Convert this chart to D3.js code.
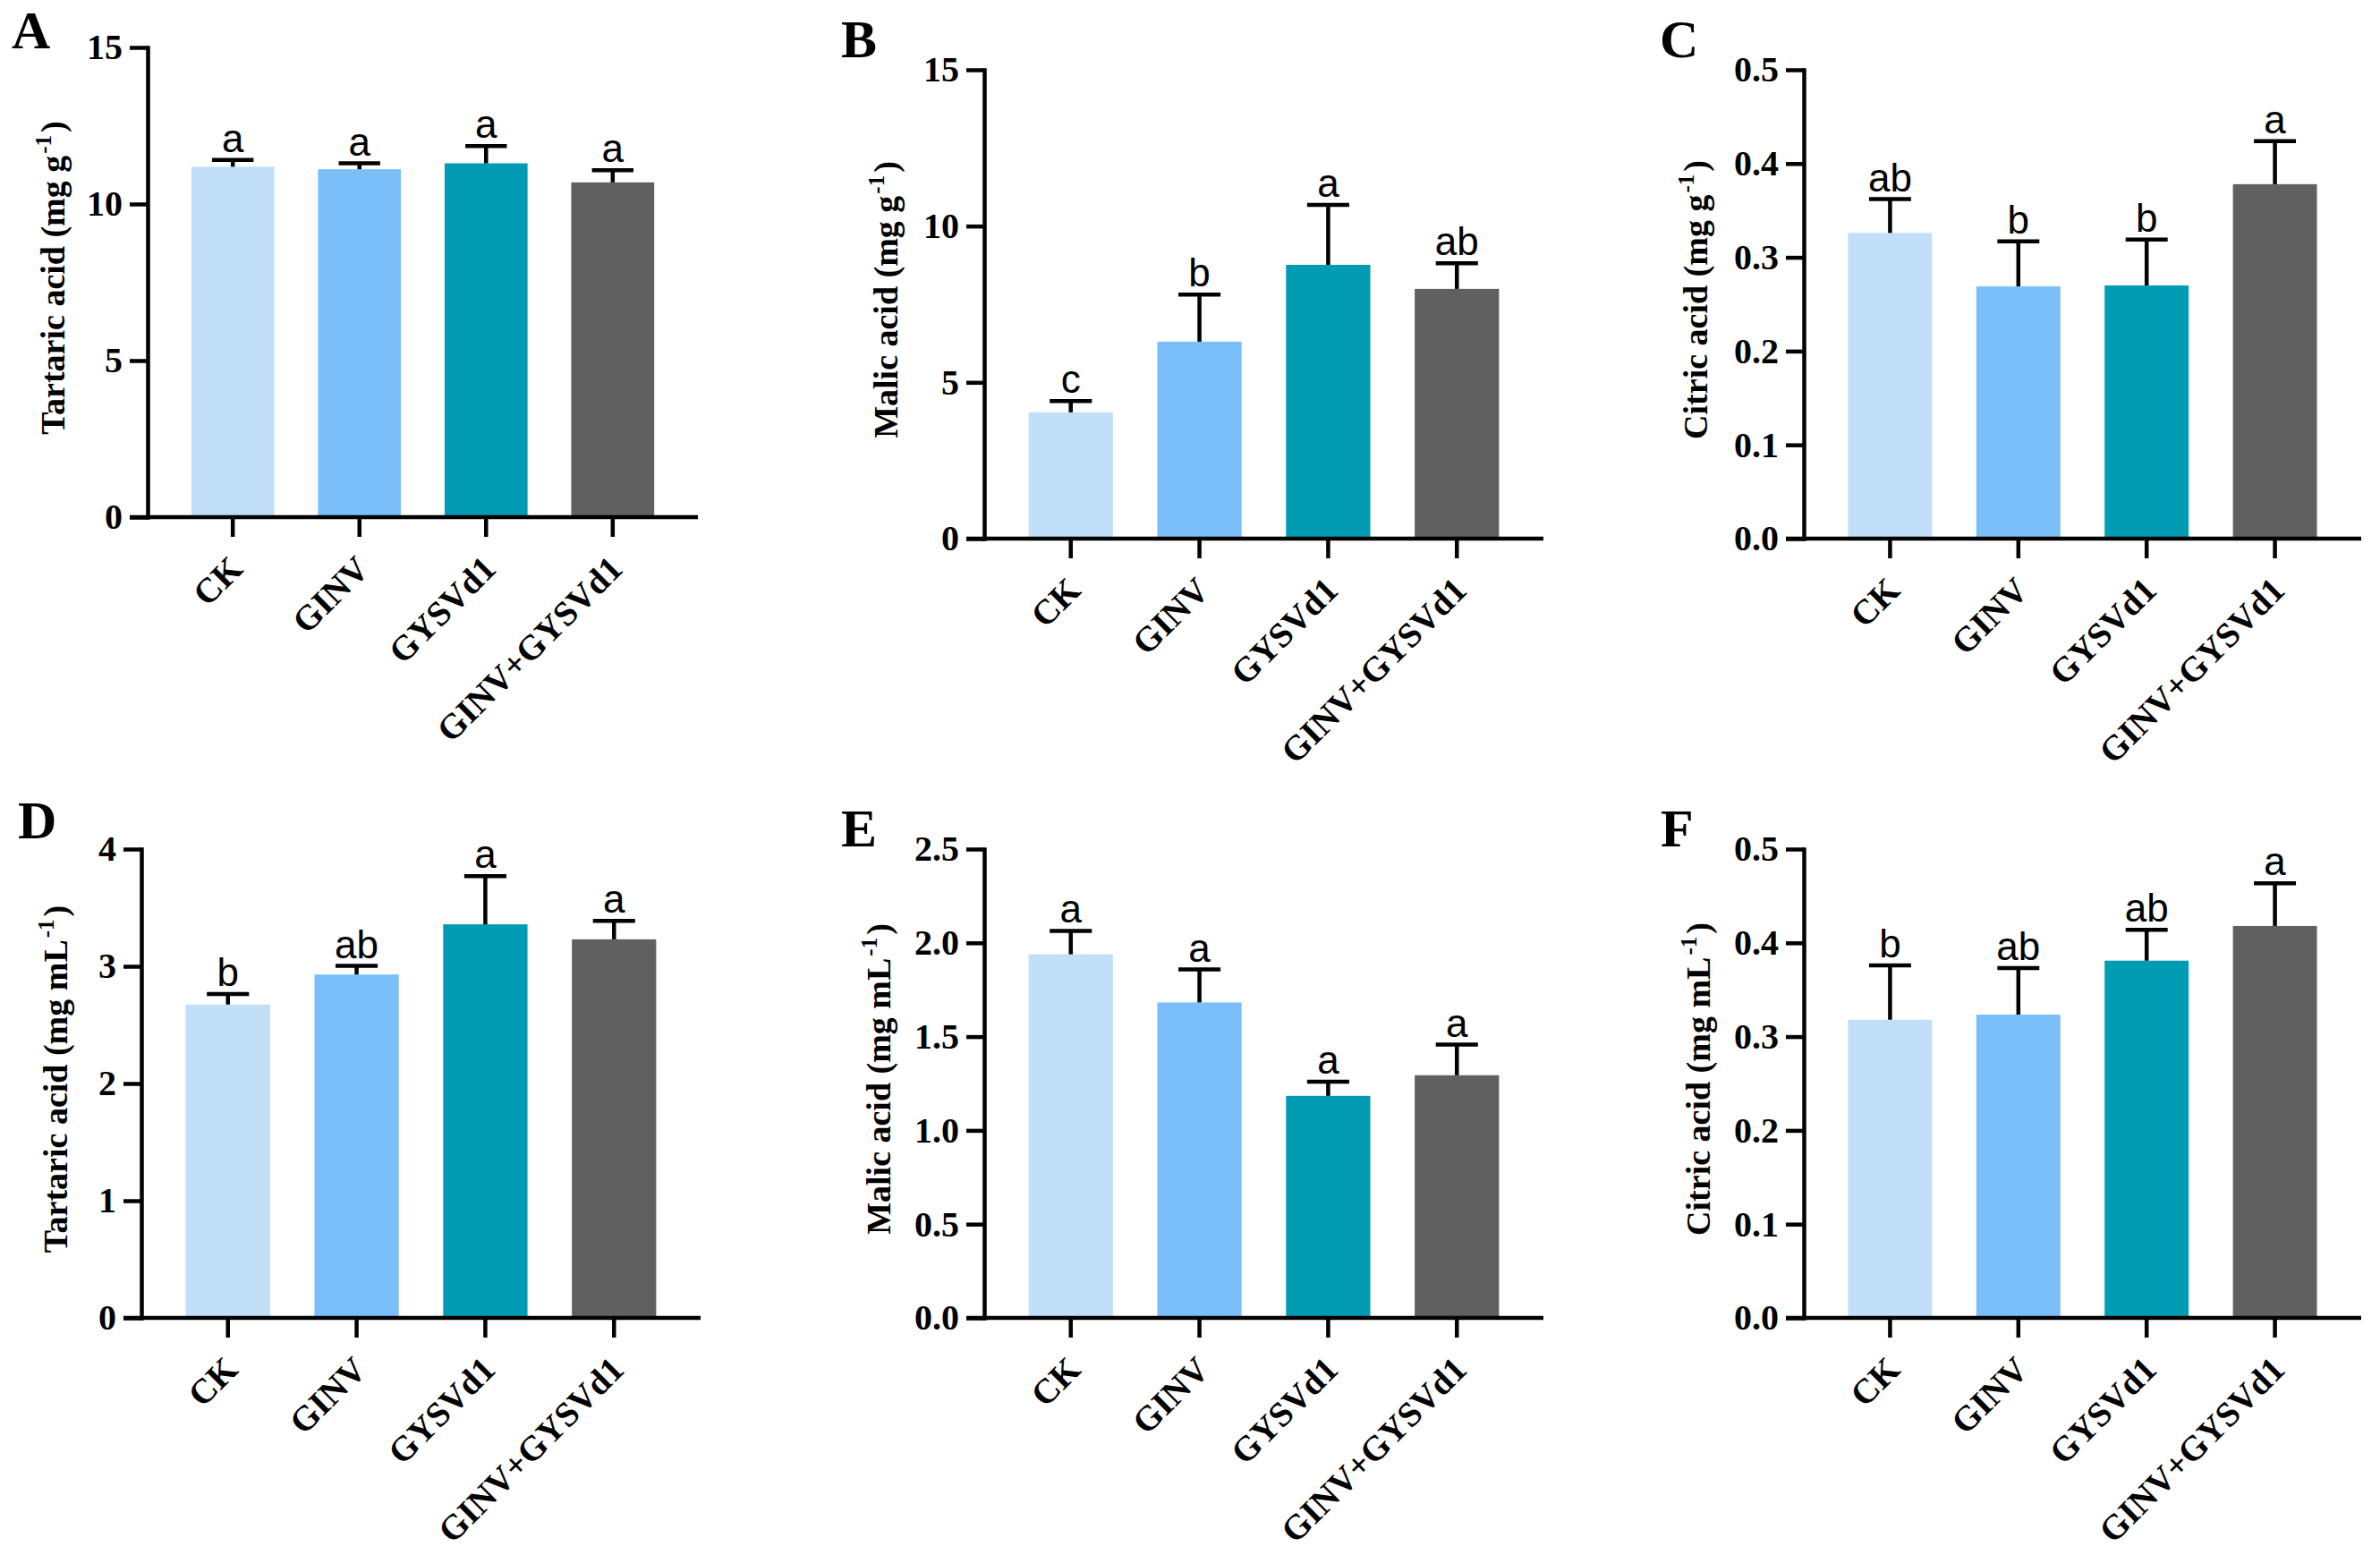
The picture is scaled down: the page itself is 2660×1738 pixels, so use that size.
<!DOCTYPE html>
<html>
<head>
<meta charset="utf-8">
<script src="https://cdn.jsdelivr.net/npm/d3@7"></script>
<style>
  html, body { margin: 0; padding: 0; background: #fff; }
  svg { display: block; }
</style>
</head>
<body>
<svg id="chart" width="2660" height="1738"></svg>
<script>
// ---------------- DATA ----------------
const categories = ["CK", "GINV", "GYSVd1", "GINV+GYSVd1"];
const barColors = ["#c2dff9", "#7bbffa", "#019bb4", "#606060"];

// Fruit (mg g-1)
const tartaricFruitMean = [11.19, 11.11, 11.30, 10.69];
const tartaricFruitSD   = [0.22, 0.19, 0.55, 0.39];
const tartaricFruitSig  = ["a", "a", "a", "a"];
const tartaricFruitTicks = [0, 5, 10, 15];

const malicFruitMean = [4.04, 6.30, 8.76, 7.99];
const malicFruitSD   = [0.36, 1.51, 1.92, 0.82];
const malicFruitSig  = ["c", "b", "a", "ab"];
const malicFruitTicks = [0, 5, 10, 15];

const citricFruitMean = [0.326, 0.269, 0.270, 0.378];
const citricFruitSD   = [0.036, 0.048, 0.049, 0.046];
const citricFruitSig  = ["ab", "b", "b", "a"];
const citricFruitTicks = [0, 0.1, 0.2, 0.3, 0.4, 0.5];

// Juice (mg mL-1)
const tartaricJuiceMean = [2.674, 2.93, 3.358, 3.23];
const tartaricJuiceSD   = [0.09, 0.073, 0.411, 0.158];
const tartaricJuiceSig  = ["b", "ab", "a", "a"];
const tartaricJuiceTicks = [0, 1, 2, 3, 4];

const malicJuiceMean = [1.939, 1.682, 1.184, 1.294];
const malicJuiceSD   = [0.125, 0.176, 0.075, 0.163];
const malicJuiceSig  = ["a", "a", "a", "a"];
const malicJuiceTicks = [0, 0.5, 1.0, 1.5, 2.0, 2.5];

const citricJuiceMean = [0.318, 0.3235, 0.381, 0.418];
const citricJuiceSD   = [0.058, 0.0495, 0.033, 0.0456];
const citricJuiceSig  = ["b", "ab", "ab", "a"];
const citricJuiceTicks = [0, 0.1, 0.2, 0.3, 0.4, 0.5];

const panelLetters = ["A", "B", "C", "D", "E", "F"];
const titleNames = ["Tartaric acid", "Malic acid", "Citric acid", "Tartaric acid", "Malic acid", "Citric acid"];
const titleUnits = ["g", "g", "g", "mL", "mL", "mL"];

// ---------------- LAYOUT (style only) ----------------
const layout = [
  { x0: 165,  w: 615, top: 53,  zero: 578,  tOff: 93,  lx: 13,   ly: 54,  fmt: "d" },
  { x0: 1100, w: 625, top: 78,  zero: 602,  tOff: 97,  lx: 940,  ly: 64,  fmt: "d" },
  { x0: 2016, w: 623, top: 78,  zero: 602,  tOff: 108, lx: 1855, ly: 64,  fmt: ".1f" },
  { x0: 158,  w: 625, top: 949, zero: 1473, tOff: 83,  lx: 20,   ly: 937, fmt: "d" },
  { x0: 1100, w: 625, top: 949, zero: 1473, tOff: 105, lx: 940,  ly: 946, fmt: ".1f" },
  { x0: 2016, w: 623, top: 949, zero: 1473, tOff: 105, lx: 1856, ly: 946, fmt: ".1f" }
];

const panelData = [
  { mean: tartaricFruitMean, sd: tartaricFruitSD, sig: tartaricFruitSig, ticks: tartaricFruitTicks },
  { mean: malicFruitMean,    sd: malicFruitSD,    sig: malicFruitSig,    ticks: malicFruitTicks },
  { mean: citricFruitMean,   sd: citricFruitSD,   sig: citricFruitSig,   ticks: citricFruitTicks },
  { mean: tartaricJuiceMean, sd: tartaricJuiceSD, sig: tartaricJuiceSig, ticks: tartaricJuiceTicks },
  { mean: malicJuiceMean,    sd: malicJuiceSD,    sig: malicJuiceSig,    ticks: malicJuiceTicks },
  { mean: citricJuiceMean,   sd: citricJuiceSD,   sig: citricJuiceSig,   ticks: citricJuiceTicks }
];

const SERIF = "'Liberation Serif', 'Times New Roman', serif";
const SANS = "'Liberation Sans', Arial, sans-serif";
const LW = 4.5;

const svg = d3.select("#chart");
svg.append("rect").attr("width", 2660).attr("height", 1738).attr("fill", "#fff");

panelData.forEach((pd, i) => {
  const L = layout[i];
  const g = svg.append("g");

  const ticks = pd.ticks;
  const y = d3.scaleLinear()
    .domain([0, ticks[ticks.length - 1]])
    .range([L.zero, L.top]);
  const x = d3.scaleBand()
    .domain(categories)
    .range([L.x0, L.x0 + L.w])
    .paddingInner(0.345)
    .paddingOuter(0.345);
  const bw = x.bandwidth();

  // bars
  g.selectAll("rect.bar")
    .data(categories)
    .join("rect")
    .attr("class", "bar")
    .attr("x", d => x(d))
    .attr("width", bw)
    .attr("y", (d, k) => y(pd.mean[k]))
    .attr("height", (d, k) => y(0) - y(pd.mean[k]))
    .attr("fill", (d, k) => barColors[k]);

  // error bars (upper only)
  const eb = g.selectAll("g.eb")
    .data(categories)
    .join("g")
    .attr("class", "eb");
  eb.append("line")
    .attr("x1", d => x(d) + bw / 2)
    .attr("x2", d => x(d) + bw / 2)
    .attr("y1", (d, k) => y(pd.mean[k]))
    .attr("y2", (d, k) => y(pd.mean[k] + pd.sd[k]))
    .attr("stroke", "#000")
    .attr("stroke-width", LW);
  eb.append("line")
    .attr("x1", d => x(d) + bw / 4)
    .attr("x2", d => x(d) + bw * 3 / 4)
    .attr("y1", (d, k) => y(pd.mean[k] + pd.sd[k]))
    .attr("y2", (d, k) => y(pd.mean[k] + pd.sd[k]))
    .attr("stroke", "#000")
    .attr("stroke-width", LW);

  // significance letters
  g.selectAll("text.sig")
    .data(categories)
    .join("text")
    .attr("class", "sig")
    .attr("x", d => x(d) + bw / 2)
    .attr("y", (d, k) => y(pd.mean[k] + pd.sd[k]) - 9)
    .attr("text-anchor", "middle")
    .attr("font-family", SANS)
    .attr("font-size", 44)
    .attr("fill", "#000")
    .text((d, k) => pd.sig[k]);

  // y axis
  const yAxis = d3.axisLeft(y)
    .tickValues(ticks)
    .tickSize(20)
    .tickSizeOuter(0)
    .tickPadding(8)
    .tickFormat(d3.format(L.fmt));
  const ya = g.append("g")
    .attr("transform", `translate(${L.x0},0)`)
    .call(yAxis);
  ya.select(".domain").attr("stroke-width", LW).attr("stroke-linecap", "square");
  ya.selectAll(".tick line").attr("stroke-width", LW);
  ya.selectAll(".tick text")
    .attr("font-family", SERIF)
    .attr("font-weight", "bold")
    .attr("font-size", 40)
    .attr("fill", "#000");

  // x axis
  const xAxis = d3.axisBottom(x)
    .tickSize(22)
    .tickSizeOuter(0)
    .tickPadding(8);
  const xa = g.append("g")
    .attr("transform", `translate(0,${L.zero})`)
    .call(xAxis);
  xa.select(".domain").remove();
  xa.insert("line", ":first-child")
    .attr("x1", L.x0 - 20)
    .attr("x2", L.x0 + L.w)
    .attr("y1", 0).attr("y2", 0)
    .attr("stroke", "#000")
    .attr("stroke-width", LW);
  xa.selectAll(".tick line").attr("stroke-width", LW);
  xa.selectAll(".tick text")
    .attr("font-family", SERIF)
    .attr("font-weight", "bold")
    .attr("font-size", 39)
    .attr("fill", "#000")
    .attr("text-anchor", "end")
    .attr("y", 0).attr("dy", 0)
    .attr("transform", "translate(13,60) rotate(-45)");

  // y title
  const cy = (L.top + L.zero) / 2 - 5;
  const t = g.append("text")
    .attr("transform", `translate(${L.x0 - L.tOff},${cy}) rotate(-90)`)
    .attr("text-anchor", "middle")
    .attr("font-family", SERIF)
    .attr("font-weight", "bold")
    .attr("font-size", 38)
    .attr("fill", "#000");
  t.append("tspan").text(`${titleNames[i]} (mg ${titleUnits[i]}`);
  t.append("tspan").attr("font-size", 25).attr("dy", -15).attr("dx", 2).text("-1");
  t.append("tspan").attr("font-size", 38).attr("dy", 15).attr("dx", 3).text(")");

  // panel letter
  svg.append("text")
    .attr("x", L.lx)
    .attr("y", L.ly)
    .attr("font-family", SERIF)
    .attr("font-weight", "bold")
    .attr("font-size", 60)
    .attr("fill", "#000")
    .text(panelLetters[i]);
});
</script>
</body>
</html>
